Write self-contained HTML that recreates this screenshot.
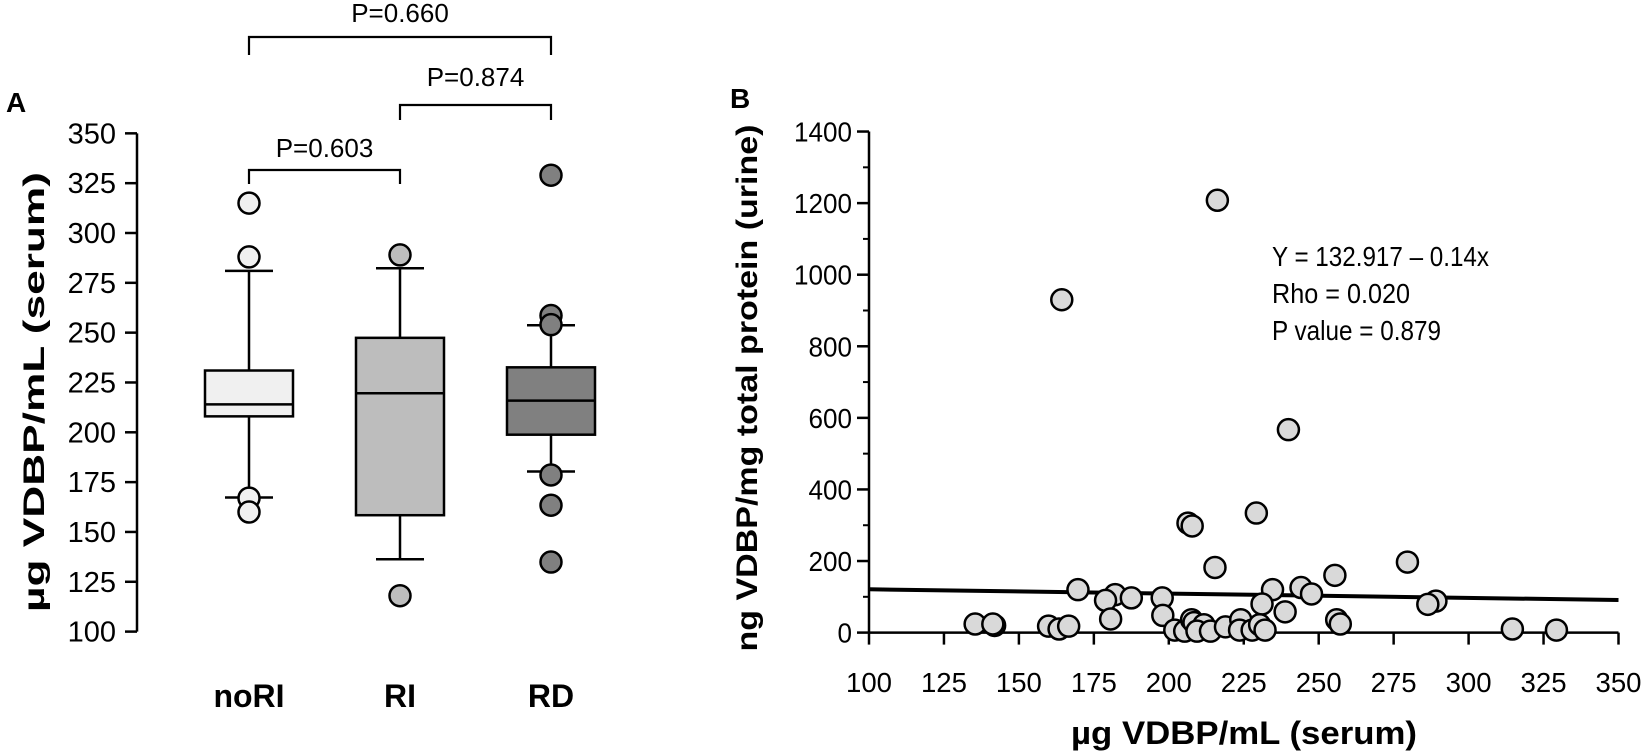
<!DOCTYPE html>
<html><head><meta charset="utf-8"><style>
html,body{margin:0;padding:0;background:#fff;}
svg{display:block;font-family:"Liberation Sans",Arial,sans-serif;}
</style></head><body>
<svg id="fig" width="1650" height="753" viewBox="0 0 1650 753" xmlns="http://www.w3.org/2000/svg">
<g id="pa"></g>
<g id="pb"></g>
</svg>
<script>
// ---- Panel A data ----
const groups = ["noRI","RI","RD"];
const q1 = [208, 158.4, 198.8];
const medians = [214, 219.6, 215.9];
const q3 = [231, 247.4, 232.6];
const whiskLo = [167.3, 136.3, 180.3];
const whiskHi = [281, 282.3, 253.7];
const outliers = [[315,288,167,160],[289,118],[329,258.6,254,178.6,163.4,134.9]];
const fills = ["#f0f0f0","#bdbdbd","#808080"];
const yTicksA = [100,125,150,175,200,225,250,275,300,325,350];
const pLabels = ["P=0.603","P=0.874","P=0.660"];
// ---- Panel B data ----
const serum = [216.2,164.3,239.9,229.2,206.4,207.8,215.4,279.6,255.4,169.7,234.6,244.1,247.6,182.1,178.9,187.5,197.8,231.1,238.8,198.0,180.6,289.1,286.4,135.4,141.9,141.3,159.9,163.4,166.6,202.0,205.3,207.6,208.4,211.7,209.4,213.9,218.9,224.0,223.6,227.8,230.3,232.1,256.0,257.2,314.6,329.3];
const urine = [1208,930,567,334,306,298,182,197,160,120,120,126,108,106,90,97,97,80,58,48,38,88,79,24,20,24,18,10,18,7,4,36,28,22,4,4,16,36,7,7,22,7,36,24,10,7];
const fitX = [100,350];
const fitY = [121,91];
const xTicksB = [100,125,150,175,200,225,250,275,300,325,350];
const yTicksB = [0,200,400,600,800,1000,1200,1400];
const statsText = ["Y = 132.917 \u2013 0.14x","Rho = 0.020","P value = 0.879"];

const NS="http://www.w3.org/2000/svg";
function mk(tag, attrs, parent, txt){const e=document.createElementNS(NS,tag);for(const k in attrs)e.setAttribute(k,attrs[k]);if(txt!==undefined)e.textContent=txt;parent.appendChild(e);return e;}

// Panel A
const pa=document.getElementById('pa');
const yA=v=>631.6-(v-100)*1.993;
const xA=i=>249+i*151;
let e;
e=mk('text',{x:6,y:112,'font-size':28,'font-weight':'bold'},pa,'A');


e=mk('line',{x1:137,x2:137,y1:yA(100),y2:yA(350),stroke:'#000','stroke-width':2.5},pa);


yTicksA.forEach(t=>{
  e=mk('line',{x1:125,x2:137,y1:yA(t),y2:yA(t),stroke:'#000','stroke-width':2.5},pa);
  
  
  e=mk('text',{x:116,y:yA(t)+10,'font-size':29,'text-anchor':'end'},pa,String(t));
  
  
});
e=mk('text',{transform:'translate(44,392) rotate(-90)','font-size':30,'font-weight':'bold','text-anchor':'middle',textLength:440,lengthAdjust:'spacingAndGlyphs'},pa,'\u00b5g VDBP/mL  (serum)');


groups.forEach((g,i)=>{
  const cx=xA(i), hw=44;
  e=mk('line',{x1:cx,x2:cx,y1:yA(whiskHi[i]),y2:yA(q3[i]),stroke:'#000','stroke-width':2.5},pa);
  
  
  e=mk('line',{x1:cx,x2:cx,y1:yA(q1[i]),y2:yA(whiskLo[i]),stroke:'#000','stroke-width':2.5},pa);
  
  
  [whiskHi[i],whiskLo[i]].forEach(w=>{
    e=mk('line',{x1:cx-24,x2:cx+24,y1:yA(w),y2:yA(w),stroke:'#000','stroke-width':2.5},pa);
    
    
  });
  e=mk('rect',{x:cx-hw,y:yA(q3[i]),width:hw*2,height:yA(q1[i])-yA(q3[i]),fill:fills[i],stroke:'#000','stroke-width':2.5},pa);
  
  
  e=mk('line',{x1:cx-hw,x2:cx+hw,y1:yA(medians[i]),y2:yA(medians[i]),stroke:'#000','stroke-width':2.5},pa);
  
  
  outliers[i].forEach(o=>{
    e=mk('circle',{cx:cx,cy:yA(o),r:10.5,fill:fills[i],stroke:'#000','stroke-width':2.5},pa);
    
    
  });
  e=mk('text',{x:cx,y:707,'font-size':32,'font-weight':'bold','text-anchor':'middle'},pa,g);
  
  
});
// brackets
const br=[[0,1,170,184,157],[1,2,105,120,86],[0,2,37,55,22]];
br.forEach((b,k)=>{
  const x1=xA(b[0]),x2=xA(b[1]);
  e=mk('path',{d:`M${x1},${b[3]} V${b[2]} H${x2} V${b[3]}`,fill:'none',stroke:'#000','stroke-width':2.2},pa);
  
  
  e=mk('text',{x:(x1+x2)/2,y:b[4],'font-size':26,'text-anchor':'middle'},pa,pLabels[k]);
  
  
});

// Panel B
const pb=document.getElementById('pb');
const xB=v=>869+(v-100)*2.998;
const yB=v=>632.6-v*0.3579;
e=mk('text',{x:730,y:108,'font-size':28,'font-weight':'bold'},pb,'B');


e=mk('line',{x1:869,x2:869,y1:yB(0),y2:yB(1400),stroke:'#000','stroke-width':2.5},pb);


e=mk('line',{x1:869,x2:xB(350),y1:yB(0),y2:yB(0),stroke:'#000','stroke-width':2.5},pb);


yTicksB.forEach(t=>{
  e=mk('line',{x1:857,x2:869,y1:yB(t),y2:yB(t),stroke:'#000','stroke-width':2.5},pb);
  
  
  if(t<1400){
    e=mk('line',{x1:863,x2:869,y1:yB(t+100),y2:yB(t+100),stroke:'#000','stroke-width':2},pb);
    
    
  }
  const s=String(t);
  e=mk('text',{x:852,y:yB(t)+10,'font-size':28,'text-anchor':'end',textLength:s.length*14.5,lengthAdjust:'spacingAndGlyphs'},pb,s);
  
  
});
xTicksB.forEach(t=>{
  e=mk('line',{x1:xB(t),x2:xB(t),y1:yB(0),y2:yB(0)+12,stroke:'#000','stroke-width':2.5},pb);
  
  
  e=mk('text',{x:xB(t),y:692,'font-size':28,'text-anchor':'middle',textLength:46,lengthAdjust:'spacingAndGlyphs'},pb,String(t));
  
  
});
e=mk('text',{x:1244,y:744,'font-size':32,'font-weight':'bold','text-anchor':'middle',textLength:346,lengthAdjust:'spacingAndGlyphs'},pb,'\u00b5g VDBP/mL (serum)');


e=mk('text',{transform:'translate(757,388) rotate(-90)','font-size':30,'font-weight':'bold','text-anchor':'middle',textLength:527,lengthAdjust:'spacingAndGlyphs'},pb,'ng VDBP/mg total protein (urine)');


e=mk('line',{x1:xB(fitX[0]),x2:xB(fitX[1]),y1:yB(fitY[0]),y2:yB(fitY[1]),stroke:'#000','stroke-width':4},pb);


serum.forEach((s,i)=>{
  e=mk('circle',{cx:xB(s),cy:yB(urine[i]),r:10.5,fill:'#d9d9d9',stroke:'#000','stroke-width':2.5},pb);
  
  
});
const lens=[217,138,169];
statsText.forEach((t,i)=>{
  e=mk('text',{x:1272,y:266+i*37,'font-size':28,textLength:lens[i],lengthAdjust:'spacingAndGlyphs'},pb,t);
  
  
});
</script>
</body></html>
